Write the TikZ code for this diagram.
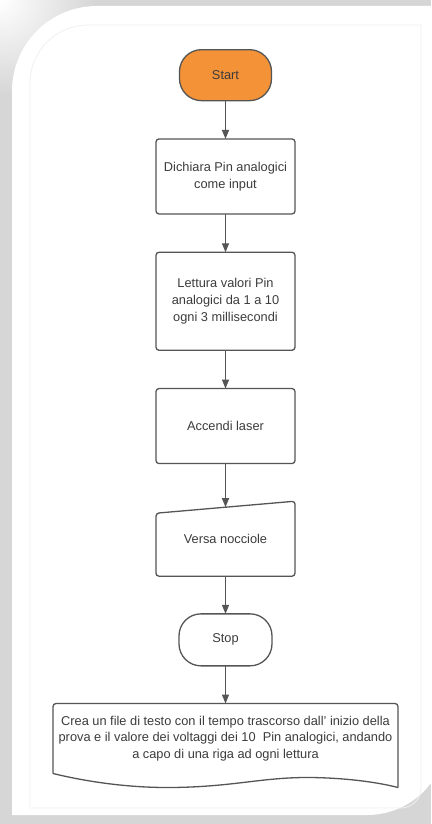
\documentclass[tikz,border=0pt]{standalone}
\usepackage{fontspec}
\setmainfont{Liberation Sans}
\usetikzlibrary{arrows.meta}
\definecolor{startorange}{HTML}{F39237}
\definecolor{edgegray}{HTML}{555555}
\definecolor{textgray}{HTML}{3C3C3C}
\definecolor{framegray}{HTML}{D6D6D6}
\begin{document}
\begin{tikzpicture}[x=1pt,y=1pt,
  box/.style={outer sep=0pt,inner sep=2pt,align=center,text=textgray,
    font=\fontsize{12.8pt}{16.7pt}\selectfont},
  terminal/.style={box,draw=edgegray,line width=1.3pt,rounded corners=22pt,
    minimum width=92pt,minimum height=51pt},
  process/.style={box,draw=edgegray,line width=1.3pt,rounded corners=3pt,
    minimum width=139pt,minimum height=75pt},
  manualbox/.style={box,minimum width=139pt,minimum height=75pt},
  docbox/.style={box,minimum width=345pt,minimum height=70pt},
  outline/.style={draw=edgegray,line width=1.3pt},
  flow/.style={-{Triangle[length=9pt,width=7pt]},edgegray,line width=1.3pt}]
\useasboundingbox (0,0) rectangle (431,-824);
\clip (0,0) rectangle (431,-824);
% frame
\fill[framegray] (0,0) rectangle (431,-824);
\shade[inner color=white,outer color=framegray] (0,0) circle[radius=95];
\fill[white] (12,-91) arc[start angle=180,end angle=90,radius=85] -- (447,-6)
  -- (447,-735) arc[start angle=0,end angle=-90,radius=80] -- (12,-815) -- cycle;
\draw[gray!12,line width=0.8pt] (30,-83) arc[start angle=180,end angle=90,radius=58] -- (421,-25)
  -- (421,-788) arc[start angle=0,end angle=-90,radius=20] -- (30,-808) -- cycle;
% chart
\matrix (chart) [row sep=37pt,inner sep=0pt,outer sep=0pt,anchor=north] at (225.5,-49)
{
  \node[terminal,fill=startorange](start){Start}; \\
  \node[process](decl){Dichiara Pin analogici\\come input}; \\
  \node[process,minimum height=98pt](read){Lettura valori Pin\\analogici da 1 a 10\\ogni 3 millisecondi}; \\
  \node[process](laser){Accendi laser}; \\
  \node[manualbox](pour){Versa nocciole}; \\
  \node[terminal,fill=white,minimum width=93pt,minimum height=52pt](stop){Stop}; \\
  \node[docbox](log){Crea un file di testo con il tempo trascorso dall' inizio della\\prova e il valore dei voltaggi dei 10\ \ Pin analogici, andando\\a capo di una riga ad ogni lettura}; \\
};
\draw[outline,rounded corners=3pt] ([yshift=-12pt]pour.north west) -- (pour.north east)
  -- (pour.south east) -- (pour.south west) -- cycle;
\draw[outline,rounded corners=3pt] (log.south west) -- (log.north west) -- (log.north east)
  -- ([yshift=-14pt]log.south east);
\draw[outline] ([yshift=-14pt]log.south east)
  .. controls +(-23,6) and +(33,0) .. ([shift={(254pt,-4pt)}]log.south west)
  .. controls +(-47,0) and +(63,0) .. ([shift={(114pt,-14pt)}]log.south west)
  .. controls +(-37,0) and +(37,-9) .. (log.south west);
\coordinate (pourtop) at ([yshift=-6pt]pour.north);
\draw[flow] (start) -- (decl);
\draw[flow] (decl) -- (read);
\draw[flow] (read) -- (laser);
\draw[flow] (laser) -- (pourtop);
\draw[flow] (pour) -- (stop);
\draw[flow] (stop) -- (log);
\end{tikzpicture}
\end{document}
